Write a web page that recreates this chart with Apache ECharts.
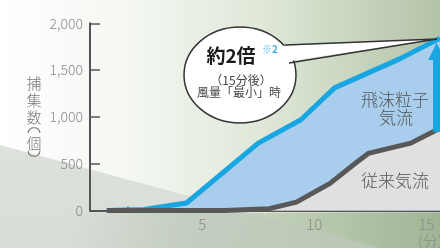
<!DOCTYPE html>
<html>
<head>
<meta charset="utf-8">
<script src="https://cdn.jsdelivr.net/npm/echarts@6/dist/echarts.min.js"></script>
<style>
html, body { margin: 0; padding: 0; }
#wrap {
  position: relative;
  width: 440px;
  height: 248px;
  overflow: hidden;
  background: linear-gradient(to right, #ffffff 0%, #f4f7f2 30%, #dde6d6 62%, #b3c3a7 100%);
}
#band {
  position: absolute; left: 0; top: 0; width: 440px; height: 248px;
  background: linear-gradient(to bottom, #e3e6e2, #d9ddd8);
  clip-path: polygon(0 145px, 440px 264px, 0 264px);
}
#strip {
  position: absolute; left: 0; top: 213px; width: 440px; height: 35px;
  background: linear-gradient(to right, rgba(150,172,140,0) 15%, rgba(150,172,140,0.3) 40%, rgba(140,165,128,0.45) 100%);
}
#box1 { position: absolute; left: 0; top: 0; width: 440px; height: 248px; }
</style>
</head>
<body>
<div id="wrap">
  <div id="band"></div>
  <div id="strip"></div>
  <div id="box1"></div>
</div>
<script>
// 経過時間(分)と捕集数(個)
var newX = [0.75, 2.4, 4.3, 7.5, 9.4, 10.9, 13.8, 15.6];
var newY = [0, 10, 80, 720, 970, 1310, 1620, 1840];
var oldX = [0.75, 3, 6, 8, 9.2, 10.7, 11.8, 12.4, 14.3, 15.6];
var oldY = [0, 0, 0, 20, 90, 290, 500, 610, 720, 880];
var yTicks = [0, 500, 1000, 1500, 2000];
var xLabels = [5, 10, 15];
// 矢印(15分後の差)
var arrowX = 15.45;
var arrowFrom = 840;
var arrowTo = 1700;

function pairs(xs, ys) {
  var out = [];
  for (var i = 0; i < xs.length; i++) {
    out.push([xs[i], ys[i]]);
  }
  return out;
}

var font = '"Noto Sans CJK JP", "Noto Sans", sans-serif';

var option1 = {
  animation: false,
  textStyle: { fontFamily: font },
  grid: { left: 90, right: 0, top: 23.3, bottom: 37.5 },
  xAxis: {
    type: 'value',
    min: 0,
    max: 15.6,
    interval: 5 / 3,
    axisLine: { show: true, lineStyle: { color: '#555', width: 2 } },
    axisTick: { show: true, inside: true, length: 4, lineStyle: { color: '#555', width: 1.5 } },
    splitLine: { show: false },
    axisLabel: {
      color: '#8a8a8a',
      fontSize: 15,
      fontWeight: 300,
      margin: 6,
      showMaxLabel: false,
      formatter: function (v) {
        for (var i = 0; i < xLabels.length; i++) {
          if (Math.abs(v - xLabels[i]) < 0.01) return xLabels[i];
        }
        return '';
      }
    }
  },
  yAxis: {
    type: 'value',
    min: yTicks[0],
    max: yTicks[yTicks.length - 1],
    interval: 500,
    axisLine: { show: true, lineStyle: { color: '#555', width: 2 } },
    axisTick: { show: true, inside: true, length: 10, lineStyle: { color: '#555', width: 1.5 } },
    splitLine: { show: false },
    axisLabel: {
      color: '#8a8a8a',
      fontSize: 14,
      fontWeight: 300,
      margin: 7,
      formatter: function (v) { return v.toLocaleString('en-US'); }
    }
  },
  series: [
    {
      name: '飛沫粒子気流',
      type: 'line',
      data: pairs(newX, newY),
      symbol: 'none',
      z: 2,
      lineStyle: { color: '#18a6e2', width: 5, join: 'round' },
      areaStyle: { color: '#a9cdec', opacity: 1 },
      markLine: {
        silent: true,
        symbol: ['none', 'triangle'],
        symbolSize: 17,
        label: { show: false },
        lineStyle: { color: '#18a6e2', width: 7, type: 'solid' },
        data: [[{ coord: [arrowX, arrowFrom] }, { coord: [arrowX, arrowTo] }]]
      }
    },
    {
      name: '従来気流',
      type: 'line',
      data: pairs(oldX, oldY),
      symbol: 'none',
      z: 3,
      lineStyle: { color: '#585858', width: 5, join: 'round' },
      areaStyle: { color: '#e0e0e0', opacity: 1 }
    }
  ]
};

var myChart = echarts.init(document.getElementById('box1'));
myChart.setOption(option1);

// 軸の延長・波線・吹き出し・文字
var top = myChart.convertToPixel({ gridIndex: 0 }, [0, yTicks[yTicks.length - 1]]);
var ax = top[0];
var wave = function (y) {
  return {
    type: 'bezierCurve',
    z: 10,
    shape: { x1: ax - 12, y1: y + 1, cpx1: ax - 5, cpy1: y - 8, cpx2: ax + 3, cpy2: y + 8, x2: ax + 10, y2: y - 1 },
    style: { stroke: '#555', lineWidth: 1.3, fill: null }
  };
};
var vChar = function (ch, y) {
  return { type: 'text', x: 34, y: y, style: { text: ch, fill: '#777', fontSize: 15, fontWeight: 300, fontFamily: font, align: 'center', verticalAlign: 'middle' } };
};
// 縦書きの括弧
var paren = function (y, dir) {
  return {
    type: 'bezierCurve',
    shape: { x1: 28, y1: y, cpx1: 29, cpy1: y - 7 * dir, cpx2: 39, cpy2: y - 7 * dir, x2: 40, y2: y },
    style: { stroke: '#777', lineWidth: 1.2, fill: null }
  };
};
var labelStyle = { fill: '#555', fontSize: 17, fontWeight: 300, fontFamily: font, align: 'center', verticalAlign: 'middle' };

myChart.setOption({
  graphic: [
    { type: 'line', shape: { x1: ax, y1: top[1], x2: ax, y2: 4 }, style: { stroke: '#555', lineWidth: 2 } },
    wave(12),
    wave(17),

    vChar('捕', 83), vChar('集', 100), vChar('数', 117),
    paren(133, 1), vChar('個', 143), paren(151, -1),

    { type: 'ellipse', z: 10, shape: { cx: 240, cy: 75, rx: 56, ry: 48 }, style: { fill: '#fff', stroke: '#333', lineWidth: 1.5 } },
    { type: 'polygon', z: 11, shape: { points: [[280, 46], [437, 39], [284, 62]] }, style: { fill: '#fff' } },
    { type: 'polyline', z: 12, shape: { points: [[285, 45], [437, 39], [289, 63]] }, style: { stroke: '#333', lineWidth: 1.5, fill: null } },
    { type: 'text', z: 13, x: 231, y: 56, style: { text: '約2倍', fill: '#1a1a1a', fontSize: 19, fontWeight: 'bold', fontFamily: font, align: 'center', verticalAlign: 'middle' } },
    { type: 'text', z: 13, x: 262, y: 49, style: { text: '※2', fill: '#3aafe6', fontSize: 10, fontWeight: 'bold', fontFamily: font, verticalAlign: 'middle' } },
    { type: 'text', z: 13, x: 241, y: 80, style: { text: '（15分後）', fill: '#444', fontSize: 12, fontFamily: font, align: 'center', verticalAlign: 'middle' } },
    { type: 'text', z: 13, x: 239, y: 92, style: { text: '風量「最小」時', fill: '#444', fontSize: 12, fontFamily: font, align: 'center', verticalAlign: 'middle' } },

    { type: 'text', z: 13, x: 395, y: 100, style: Object.assign({ text: '飛沫粒子' }, labelStyle) },
    { type: 'text', z: 13, x: 396, y: 118, style: Object.assign({ text: '気流' }, labelStyle) },
    { type: 'text', z: 13, x: 395, y: 181, style: Object.assign({ text: '従来気流' }, labelStyle) },
    { type: 'text', z: 13, x: 418, y: 241, style: { text: '(分)', fill: '#8a8a8a', fontSize: 15, fontWeight: 300, fontFamily: font, verticalAlign: 'middle' } }
  ]
});
myChart.resize();
</script>
</body>
</html>
